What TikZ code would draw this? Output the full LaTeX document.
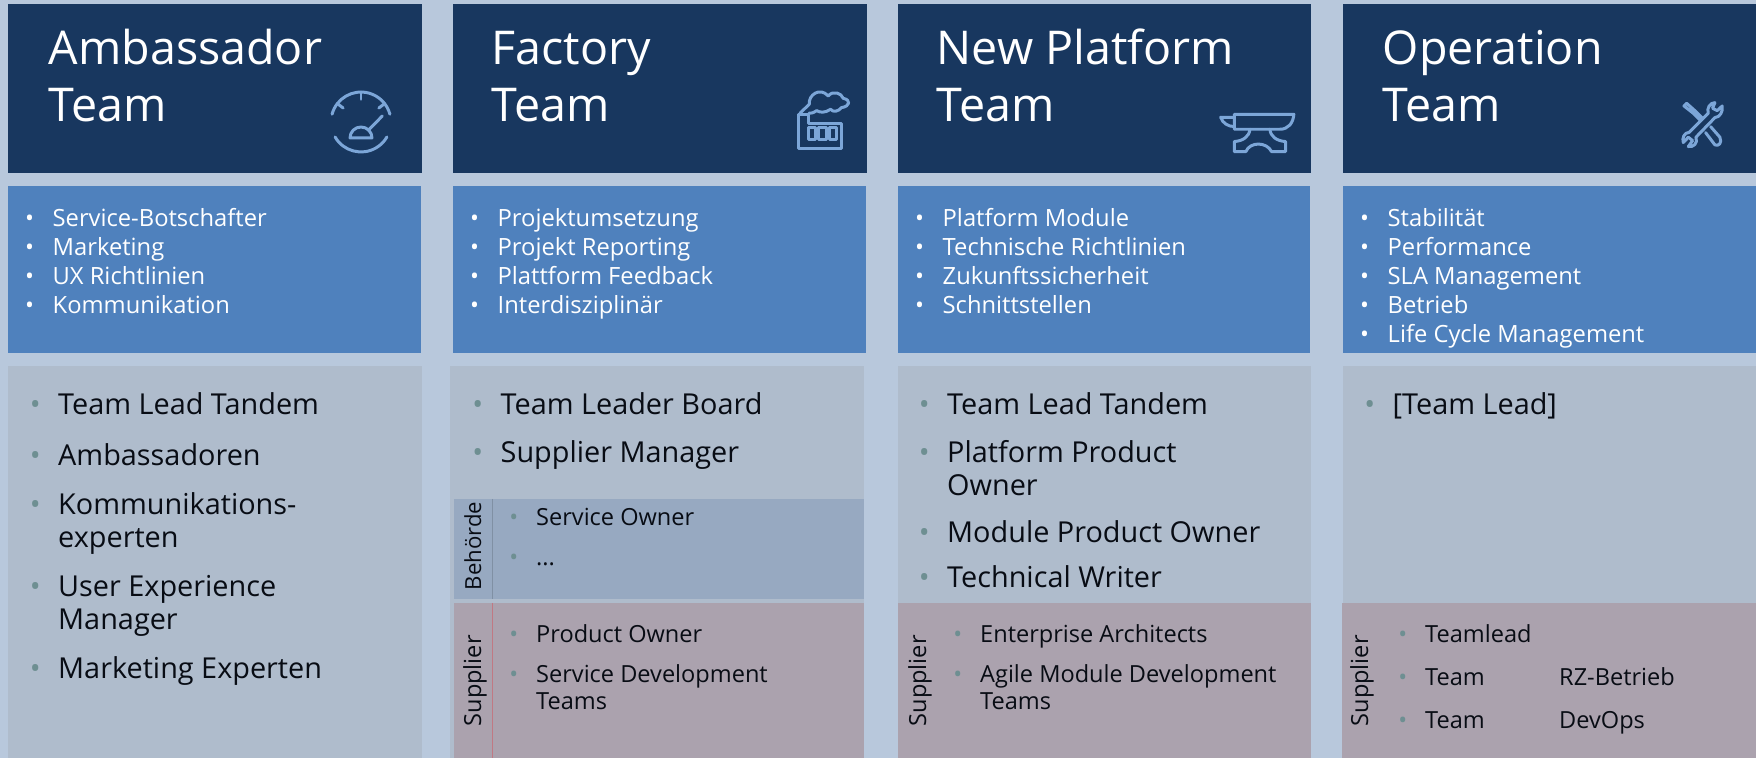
\documentclass[tikz,border=0pt]{standalone}
\usepackage{fontspec}
\setmainfont{Open Sans}
\definecolor{pagebg}{HTML}{B8C8DC}
\definecolor{headbg}{HTML}{18375F}
\definecolor{taskbg}{HTML}{4F81BD}
\definecolor{rolebg}{HTML}{AFBCCC}
\definecolor{authbg}{HTML}{97A9C1}
\definecolor{suppbg}{HTML}{ABA2AE}
\definecolor{iconcol}{HTML}{7CA6D8}
\definecolor{dotcol}{HTML}{6E8F92}
\definecolor{inkcol}{HTML}{080C14}
\tikzset{
	every label text/.style={
		inner sep=0pt,
		anchor=base west },
	team title/.style={
		every label text,
		text=white,
		font=\fontsize{13.25}{15}\selectfont },
	task item/.style={
		every label text,
		text=white,
		font=\fontsize{6.75}{9}\selectfont,
		execute at begin node=\llap{\textbullet\hspace{5.3pt}} },
	role line/.style={
		every label text,
		text=inkcol,
		font=\fontsize{8.2}{10}\selectfont },
	role item/.style={
		role line,
		execute at begin node=\llap{\textcolor{dotcol}{\textbullet}\hspace{5pt}} },
	sub line/.style={
		every label text,
		text=inkcol,
		font=\fontsize{6.7}{8}\selectfont },
	sub item/.style={
		sub line,
		execute at begin node=\llap{\textcolor{dotcol}{\textbullet}\hspace{5.1pt}} },
	side label/.style={
		every label text,
		rotate=90,
		text=inkcol,
		font=\fontsize{6.7}{8}\selectfont },
	icon/.style={
		draw=iconcol,
		line width=0.85pt,
		line cap=round,
		line join=round },
}

\begin{document}
\begin{tikzpicture}[x=0.01cm, y=-0.01cm]

		\useasboundingbox (0,0) rectangle (1756,758);
		\fill [pagebg] (0,0) rectangle (1756,758);

		% columns
		\foreach \x/\r/\g/\h in {8/421/8/422, 453/866/450/864, 898/1310/898/1311, 1343/1756/1343/1756} {
		\fill [headbg] (\x,4) rectangle (\h+\x-\g,173);
		\fill [taskbg] (\x,186) rectangle (\r,353);
		\fill [rolebg] (\g,366) rectangle (\h,758);
		}

		\fill [authbg] (454,499) rectangle (864,599);
		\foreach \x/\r in {454/864, 898/1311, 1342/1756}
		\fill [suppbg] (\x,603) rectangle (\r,758);
		\draw [authbg!85!black, line width=0.2pt] (492,499) -- (492,599);
		\draw [suppbg!75!red, line width=0.2pt] (492,603) -- (492,758);

		% titles
		\foreach \x/\a/\b in {48/Ambassador/ambassador, 491/Factory/factory, 936/New Platform/platform, 1382/Operation/operation} {
		\node [team title] (title-\b) at (\x,65) {\a};
		\node [team title] (team-\b) at (\x,121.5) {Team};
		}

		% tasks
		\foreach \l [count=\i] in {Service-Botschafter,Marketing,UX Richtlinien,Kommunikation}
		\node [task item] (task-a\i) at (52,198+\i*29) {\l};
		\foreach \l [count=\i] in {Projektumsetzung,Projekt Reporting,Plattform Feedback,Interdisziplinär}
		\node [task item] (task-f\i) at (497,198+\i*29) {\l};
		\foreach \l [count=\i] in {Platform Module,Technische Richtlinien,Zukunftssicherheit,Schnittstellen}
		\node [task item] (task-p\i) at (942,198+\i*29) {\l};
		\foreach \l [count=\i] in {Stabilität,Performance,SLA Management,Betrieb,Life Cycle Management}
		\node [task item] (task-o\i) at (1387,198+\i*29) {\l};

		% roles
		\foreach \l/\y [count=\i] in {Team Lead Tandem/415,Ambassadoren/466,Kommunikations-/515,User Experience/597,Marketing Experten/679}
		\node [role item] (role-a\i) at (57.5,\y) {\l};
		\node [role line] (role-a3b) at (57.5,548) {experten};
		\node [role line] (role-a4b) at (57.5,630) {Manager};

		\foreach \l/\y [count=\i] in {Team Leader Board/415,Supplier Manager/463}
		\node [role item] (role-f\i) at (500,\y) {\l};

		\foreach \l/\y [count=\i] in {Team Lead Tandem/415,Platform Product/463,Module Product Owner/543,Technical Writer/588}
		\node [role item] (role-p\i) at (946.5,\y) {\l};
		\node [role line] (role-p2b) at (946.5,496) {Owner};

		\node [role item] (role-o1) at (1392,415) {[Team Lead]};

		% side groups
		\node [side label, font=\fontsize{6.3}{8}\selectfont] (side-auth) at (481,591) {Behörde};
		\foreach \x/\n in {481/f, 926/p, 1368/o}
		\node [side label] (side-\n) at (\x,727) {Supplier};

		\node [sub item] (sub-f1) at (535.5,526) {Service Owner};
		\node [sub item] (sub-f2) at (535.5,566) {...};
		\node [sub item] (sub-f3) at (535.5,643) {Product Owner};
		\node [sub item] (sub-f4) at (535.5,683) {Service Development};
		\node [sub line] (sub-f4b) at (535.5,710) {Teams};

		\node [sub item] (sub-p1) at (979.5,643) {Enterprise Architects};
		\node [sub item] (sub-p2) at (979.5,683) {Agile Module Development};
		\node [sub line] (sub-p2b) at (979.5,710) {Teams};

		\foreach \l/\y [count=\i] in {Teamlead/643,Team/686,Team/729}
		\node [sub item] (sub-o\i) at (1424.5,\y) {\l};
		\node [sub line] (sub-o2b) at (1558.5,686) {RZ-Betrieb};
		\node [sub line] (sub-o3b) at (1558.5,729) {DevOps};

		% gauge
		\begin{scope}[shift={(361,122)}, x=0.00333cm, y=0.00333cm]
		\draw [icon] (165:90) arc [start angle=165, end angle=15, radius=90];
		\draw [icon] (210:90) arc [start angle=210, end angle=330, radius=90];
		\foreach \a in {38,90,142}
		\draw [icon] (\a:90) -- (\a:68);
		\draw [icon] (22,-25) -- (64,18);
		\draw [icon] (-33,-48) arc [start angle=180, end angle=0, radius=33] -- cycle;
		\end{scope}

		% factory
		\begin{scope}[shift={(760,70)}, x=0.00333cm, y=-0.00333cm]
		\draw [icon] (147,135) -- (147,160) -- (245,160) -- (245,235) -- (115,235) -- (115,135) -- cycle;
		\draw [icon] (120,130) -- (148,103) .. controls (145,75) and (180,50) .. (205,78)
		.. controls (220,60) and (245,70) .. (250,85) .. controls (275,90) and (270,110) .. (245,113)
		.. controls (235,125) and (220,128) .. (212,118) .. controls (195,130) and (180,128) .. (170,122)
		.. controls (160,130) and (152,130) .. (147,130);
		\foreach \w in {145,177,209}
		\draw [icon] (\w,174) rectangle (\w+22,208);
		\end{scope}

		% anvil
		\begin{scope}[shift={(1200,80)}, x=0.00333cm, y=-0.00333cm]
		\draw [icon] (103,103) -- (282,103) .. controls (280,130) and (265,148) .. (240,148) -- (103,148) -- cycle;
		\draw [icon] (103,112) -- (62,112) .. controls (68,130) and (85,140) .. (103,140);
		\draw [icon] (150,148) .. controls (148,170) and (130,183) .. (103,185) -- (103,215) -- (138,215)
		.. controls (150,185) and (200,185) .. (215,215) -- (257,215) -- (257,185)
		.. controls (230,183) and (212,170) .. (210,148);
		\end{scope}

		% tools
		\begin{scope}[shift={(1660,80)}, x=0.00333cm, y=-0.00333cm]
		\draw [icon] (108,172) -- (165,113) .. controls (180,112) and (190,95) .. (187,78) -- (172,92) -- (158,85) -- (165,68)
		.. controls (150,68) and (140,85) .. (145,100) -- (88,157) .. controls (72,158) and (66,175) .. (70,188)
		-- (85,172) -- (98,182) -- (85,200) .. controls (100,203) and (115,190) .. (108,172) -- cycle;
		\draw [icon] (122,122) -- (100,100) -- (72,78) -- (80,70) -- (108,95) -- (128,115);
		\draw [icon] (152,140) -- (180,172) .. controls (188,190) and (175,200) .. (165,195) -- (137,158);
		\end{scope}

	\end{tikzpicture}
\end{document}
